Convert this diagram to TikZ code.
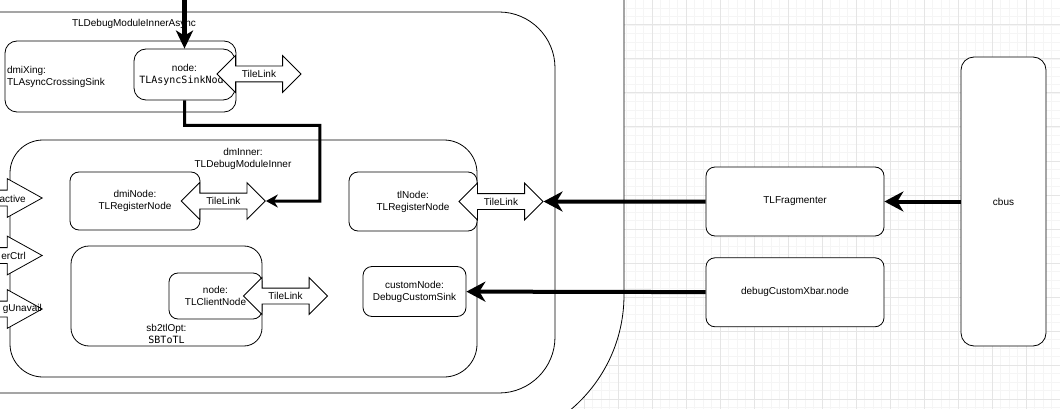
\documentclass[tikz,border=0pt]{standalone}
\usepackage{fontspec}
\setmainfont{Liberation Sans}
\setmonofont{DejaVu Sans Mono}
\usetikzlibrary{positioning}
\usetikzlibrary{arrows.meta}
\usetikzlibrary{shapes.arrows}
\tikzset{
    % Plain arrow tip, close to the one of the drawing tool
    >=Stealth,
%
    % Thin rounded outline used by every module
    module/.style={draw, line width=0.8pt, fill=white, rounded corners=9pt,
        align=center, inner sep=2pt},
%
    % Large white frames holding the modules
    container/.style={draw, line width=0.8pt, fill=white},
%
    % Light canvas grid
    minor grid/.style={draw=black!4, line width=0.8pt},
    major grid/.style={draw=black!10, line width=1pt},
%
    % Heavy bus connections and the thinner routed wire
    bus/.style={line width=4pt, -{Stealth[length=19pt, width=20pt, inset=6pt]}},
    wire/.style={line width=3pt, -{Stealth[length=12pt, width=13pt, inset=4pt]}}}

\begin{document}
\begin{tikzpicture}[x=1pt, y=-1pt,
    font=\fontsize{10}{12}\selectfont,
    caption/.style={align=center, inner sep=1pt},
    tilelink/.style={draw, fill=white, line width=0.8pt, double arrow,
        double arrow head extend=10.5pt, double arrow tip angle=90,
        minimum height=84pt, inner xsep=2pt, inner ysep=4pt,
        text height=7pt, text depth=0pt},
    port arrow/.style={draw, fill=white, line width=0.8pt, single arrow,
        single arrow head extend=11.5pt, single arrow tip angle=58,
        minimum height=90pt, inner xsep=0pt, inner ysep=7.5pt,
        text height=0pt, text depth=0pt, anchor=tip}]
\useasboundingbox (0,0) rectangle (1060,409);
\clip (0,0) rectangle (1060,409);

% Canvas grid
\begin{scope}[shift={(6.3,25)}]
\draw[minor grid, step=8.5pt] (-20,400) grid (1070,-40);
\draw[major grid, step=34pt] (-20,400) grid (1070,-40);
\end{scope}

% Frames: outer module, TLDebugModuleInnerAsync and dmInner
\path[container, rounded corners=150pt] (-300,445) rectangle (624,-300);
\path[container, rounded corners=56pt] (-200,12) rectangle (555,393);
\node[caption] at (134,23.5) (async title) {TLDebugModuleInnerAsync};


% Async crossing and its sink node
\node[module, rounded corners=12pt, minimum width=231pt, minimum height=71pt,
    text width=227pt, align=left]
    at (120.5,76.5) (dmi xing) {dmiXing:\\TLAsyncCrossingSink};
\node[module, rounded corners=12pt, minimum width=101pt, minimum height=51pt]
    at (184.5,74.5) (sink node) {node:\\\texttt{TLAsyncSinkNode}};
\node[tilelink] at (259,74) (sink link) {TileLink};


% Inner debug module
\path[container, rounded corners=33pt] (10,140) rectangle (477,377);
\node[caption] at (243,159) (inner title) {dmInner:\\TLDebugModuleInner};

\node[port arrow] at (43,198) (active port) {};
\node[caption, anchor=east] at (27,198.5) (active text) {active};
\node[port arrow] at (43,255.5) (ctrl port) {};
\node[caption, anchor=east] at (27,256) (ctrl text) {erCtrl};
\node[port arrow] at (43,309) (unavail port) {};
\node[caption, anchor=east] at (43,309) (unavail text) {gUnavail};

\node[module, minimum width=130pt, minimum height=58pt]
    at (135,201) (dmi node) {dmiNode:\\TLRegisterNode};
\node[tilelink] at (223.3,201) (dmi link) {TileLink};

\node[module, rounded corners=18pt, minimum width=191pt, minimum height=100pt]
    at (166.5,296) (sb2tl opt) {};
\node[caption, above=2pt of sb2tl opt.south]
    (sb2tl title) {sb2tlOpt:\\\texttt{SBToTL}};
\node[module, minimum width=93pt, minimum height=46pt]
    at (215.5,296) (client node) {node:\\TLClientNode};
\node[tilelink] at (285.5,296) (client link) {TileLink};

\node[module, minimum width=128pt, minimum height=59pt]
    at (413,201.5) (tl node) {tlNode:\\TLRegisterNode};
\node[tilelink] at (501,201.5) (tl link) {TileLink};
\node[module, minimum width=103pt, minimum height=50pt]
    at (414.5,291.5) (custom node) {customNode:\\DebugCustomSink};


% Outside modules on the canvas
\node[module, minimum width=178pt, minimum height=69pt]
    at (795,201.5) (fragmenter) {TLFragmenter};
\node[module, minimum width=178pt, minimum height=69pt, below=21pt of fragmenter]
    (custom xbar) {debugCustomXbar.node};
\node[module, rounded corners=13pt, minimum width=85pt, minimum height=289pt]
    at (1003.5,201.5) (cbus) {cbus};


% Connections
\coordinate (top entry) at (184.5,-10);
\draw[line width=4.5pt, -{Stealth[length=18pt, width=17pt, inset=5pt]}]
    (top entry) -- (sink node);
\draw[wire] (sink node.south) -- ++(0,25)
    -| ([xshift=54pt]dmi link.east) -- (dmi link);

\draw[bus] (cbus) -- (fragmenter);
\draw[bus] (fragmenter) -- (tl link);
\draw[bus] (custom xbar) -- (custom node);
\end{tikzpicture}
\end{document}
